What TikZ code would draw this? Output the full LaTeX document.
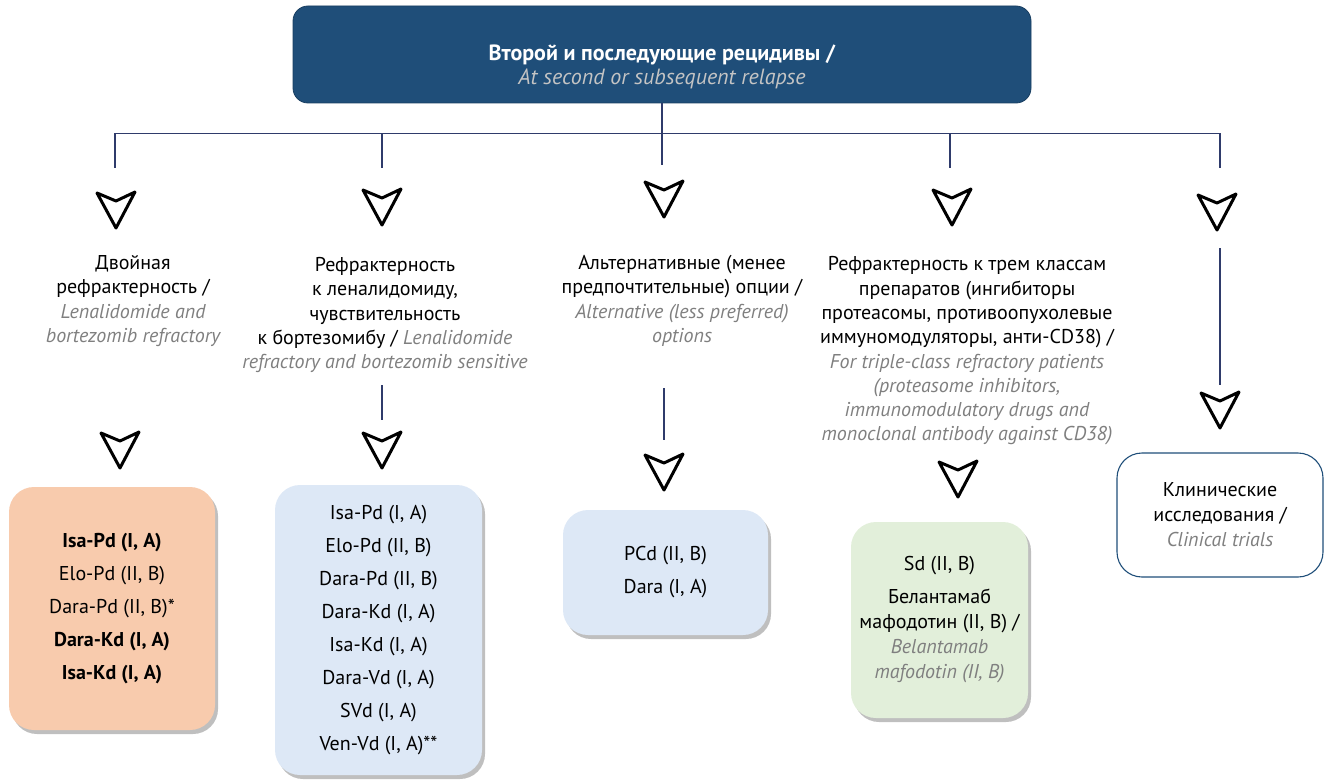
\documentclass[tikz,border=0pt]{standalone}
\usepackage{fontspec}
\setmainfont{PT Sans}
\newfontfamily\itfont{PT Sans}
\usetikzlibrary{positioning,shadows}
\definecolor{navy}{HTML}{1F4E79}
\definecolor{linecol}{HTML}{2F3B6B}
\definecolor{peach}{HTML}{F8CBAD}
\definecolor{paleblue}{HTML}{DDE8F6}
\definecolor{palegreen}{HTML}{E2EFDA}
\definecolor{engray}{HTML}{7F7F7F}
\definecolor{topgray}{HTML}{C4C4C4}
\newcommand{\engl}[1]{{\itfont\itshape\color{engray}#1}}
\tikzstyle{topbox}=[rectangle, rounded corners=15pt, draw=navy!80!black, fill=navy,
                    thick, minimum width=738pt, minimum height=97pt]
\tikzstyle{toptext}=[text=white, align=center, font=\fontsize{22}{24}\selectfont]
\tikzstyle{lbl}=[align=center, inner sep=0pt, font=\fontsize{20}{24.3}\selectfont]
\tikzstyle{tbox}=[rectangle, rounded corners=25pt, align=center, inner sep=2pt,
                  font=\fontsize{20}{33}\selectfont,
                  drop shadow={shadow xshift=3pt, shadow yshift=-4pt, fill=black, opacity=0.25}]
\tikzstyle{pline}=[-, draw=linecol, line width=1.1pt]
\tikzset{chev/.pic={\draw[line width=3pt, line join=round, black]
  (-19,-8) -- (0,0) -- (19,-9) -- (0,27) -- cycle;}}

\begin{document}
\begin{tikzpicture}[x=1pt, y=-1pt]
\useasboundingbox (0,0) rectangle (1327,781);

\node (TOP) [topbox, label={[toptext, yshift=-12pt]center:{\textbf{Второй и последующие рецидивы /}\\
  {\itfont\itshape\color{topgray}At second or subsequent relapse}}}] at (662,54.5) {};

\coordinate (S1) at (115,168);
\coordinate (S2) at (382,168);
\coordinate (S3) at (662,165);
\coordinate (S4) at (950,168);
\coordinate (S5) at (1220,168);
 \draw[pline] (TOP.south) -- ++(0,30) -| (S1);
 \draw[pline] (TOP.south) -- ++(0,30) -| (S2);
 \draw[pline] (TOP.south) -- (S3);
 \draw[pline] (TOP.south) -- ++(0,30) -| (S4);
 \draw[pline] (TOP.south) -- ++(0,30) -| (S5);

\pic at (116,201) {chev};
\pic at (382,198) {chev};
\pic at (664,190) {chev};
\pic at (952,198) {chev};
\pic at (1217,203) {chev};

\node (DBLREF) [lbl] at (133,301) {Двойная\\ рефрактерность /\\ \engl{Lenalidomide and}\\
  \engl{bortezomib refractory}};
\node (LENREF) [lbl] at (385,315) {Рефрактерность\\ к леналидомиду,\\ чувствительность\\
  к бортезомибу / \engl{Lenalidomide}\\ \engl{refractory and bortezomib sensitive}};
\node (ALT) [lbl] at (682,301) {Альтернативные (менее\\ предпочтительные) опции /\\
  \engl{Alternative (less preferred)}\\ \engl{options}};
\node (TRIPLE) [lbl] at (967,351) {Рефрактерность к трем классам\\ препаратов (ингибиторы\\
  протеасомы, противоопухолевые\\ иммуномодуляторы, анти-CD38) /\\
  \engl{For triple-class refractory patients}\\ \engl{(proteasome inhibitors,}\\
  \engl{immunomodulatory drugs and}\\ \engl{monoclonal antibody against CD38)}};

\coordinate (M2a) at (382,385);
\coordinate (M2b) at (382,420);
\coordinate (M3a) at (664,388);
\coordinate (M3b) at (664,440);
\coordinate (M5a) at (1220,248);
\coordinate (M5b) at (1220,385);
 \draw[pline] (M2a) -- (M2b);
 \draw[pline] (M3a) -- (M3b);
 \draw[pline] (M5a) -- (M5b);

\pic at (120,441) {chev};
\pic at (382,441) {chev};
\pic at (664,463) {chev};
\pic at (958,470) {chev};
\pic at (1220,401) {chev};

\node (DBLBOX) [tbox, fill=peach, minimum width=206pt, minimum height=243pt] at (112,608.5)
  {\textbf{Isa-Pd (I, A)}\\ Elo-Pd (II, B)\\ Dara-Pd (II, B)*\\ \textbf{Dara-Kd (I, A)}\\
   \textbf{Isa-Kd (I, A)}};
\node (LENBOX) [tbox, fill=paleblue, minimum width=207pt, minimum height=290pt] at (378.5,630)
  {Isa-Pd (I, A)\\ Elo-Pd (II, B)\\ Dara-Pd (II, B)\\ Dara-Kd (I, A)\\ Isa-Kd (I, A)\\
   Dara-Vd (I, A)\\ SVd (I, A)\\ Ven-Vd (I, A)**};
\node (ALTBOX) [tbox, fill=paleblue, minimum width=205pt, minimum height=125pt] at (665.5,572.5)
  {PCd (II, B)\\ Dara (I, A)};
\node (TRIBOX) [tbox, fill=palegreen, minimum width=177pt, minimum height=196pt,
  font=\fontsize{20}{25}\selectfont] at (939.5,620)
  {Sd (II, B)\\[8pt] Белантамаб\\ мафодотин (II, B) /\\ \engl{Belantamab}\\ \engl{mafodotin (II, B)}};
\node (CLIN) [rectangle, rounded corners=25pt, draw=navy, line width=1.1pt, align=center,
  minimum width=206pt, minimum height=124pt, font=\fontsize{20}{25}\selectfont] at (1220,515)
  {Клинические\\ исследования /\\ \engl{Clinical trials}};

\end{tikzpicture}
\end{document}
